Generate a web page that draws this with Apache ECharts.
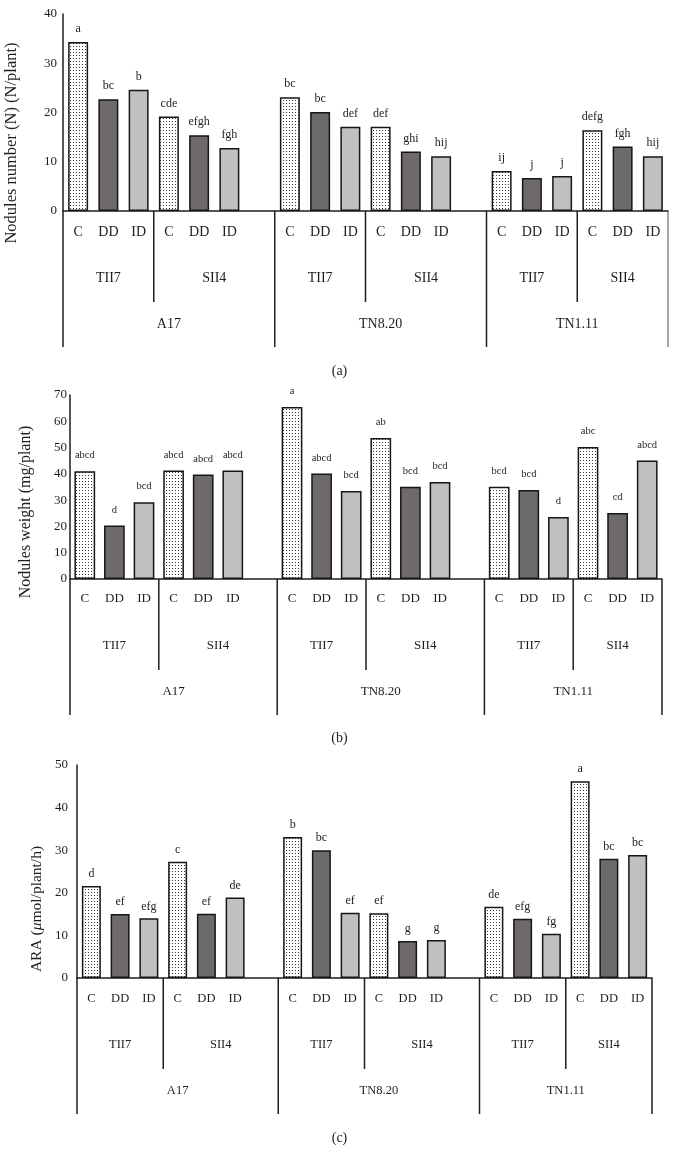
<!DOCTYPE html>
<html>
<head>
<meta charset="utf-8">
<script src="https://cdn.jsdelivr.net/npm/echarts@6.0.0/dist/echarts.min.js"></script>
<style>
html,body{margin:0;padding:0;background:#fff}
#chart{width:679px;height:1170px}
</style>
</head>
<body>
<div id="chart"></div>
<script>
// ---------- data ----------
const groupNames = ['A17', 'TN8.20', 'TN1.11'];
const strainNames = ['TII7', 'SII4'];
const treatmentNames = ['C', 'DD', 'ID'];
const panelCaptions = ['(a)', '(b)', '(c)'];
const axisMaxima = [40, 70, 50];
const axisStep = 10;

// order: A17-TII7, A17-SII4, TN8.20-TII7, TN8.20-SII4, TN1.11-TII7, TN1.11-SII4
const numberC  = [34.3, 19.2, 23.1, 17.1, 8.1, 16.4];
const numberDD = [22.7, 15.4, 20.1, 12.1, 6.7, 13.1];
const numberID = [24.6, 12.8, 17.1, 11.1, 7.1, 11.1];
const numberLetC  = ['a', 'cde', 'bc', 'def', 'ij', 'defg'];
const numberLetDD = ['bc', 'efgh', 'bc', 'ghi', 'j', 'fgh'];
const numberLetID = ['b', 'fgh', 'def', 'hij', 'j', 'hij'];

const weightC  = [41.0, 41.3, 65.4, 53.6, 35.1, 50.2];
const weightDD = [20.4, 39.8, 40.1, 35.1, 33.9, 25.1];
const weightID = [29.2, 41.3, 33.5, 36.9, 23.6, 45.1];
const weightLetC  = ['abcd', 'abcd', 'a', 'ab', 'bcd', 'abc'];
const weightLetDD = ['d', 'abcd', 'abcd', 'bcd', 'bcd', 'cd'];
const weightLetID = ['bcd', 'abcd', 'bcd', 'bcd', 'd', 'abcd'];

const araC  = [21.6, 27.3, 33.1, 15.2, 16.7, 46.2];
const araDD = [15.0, 15.1, 30.0, 8.7, 13.9, 28.0];
const araID = [14.0, 18.9, 15.3, 8.9, 10.4, 28.9];
const araLetC  = ['d', 'c', 'b', 'ef', 'de', 'a'];
const araLetDD = ['ef', 'ef', 'bc', 'g', 'efg', 'bc'];
const araLetID = ['efg', 'de', 'ef', 'g', 'fg', 'bc'];

// ---------- build ----------
const FONT = '"Liberation Serif", "DejaVu Serif", serif';
const INK = '#1e1e1e';

// slots: treatments of each strain, one blank slot between genotypes
const slots = [];
groupNames.forEach((g, gi) => {
  strainNames.forEach((s, si) => {
    treatmentNames.forEach((t, ti) => slots.push({ gi, si, ti, label: t }));
  });
  if (gi < groupNames.length - 1) slots.push(null);
});
const categoryLabels = slots.map(s => (s ? s.label : ''));

const dotCanvas = document.createElement('canvas');
dotCanvas.width = 3; dotCanvas.height = 3;
(function () {
  const c = dotCanvas.getContext('2d');
  c.fillStyle = '#ffffff'; c.fillRect(0, 0, 3, 3);
  c.fillStyle = '#3a3a3a'; c.fillRect(1, 1, 1, 1);
})();
const fills = [{ image: dotCanvas, repeat: 'repeat' }, '#6e6a6a', '#c0c0c0'];

const panels = [
  { values: [numberC, numberDD, numberID], letters: [numberLetC, numberLetDD, numberLetID],
    grid: { left: 63, top: 14, width: 605, height: 197 }, barWidth: '66%',
    catFont: 14, catMargin: 14, tickMargin: 6, letterFont: 12, letterDist: 7, hierFont: 14,
    yName: 'Nodules number (N) (N/plant)', yNameX: 12, yNameY: 143, yNameFont: 16.5, capY: 371 },
  { values: [weightC, weightDD, weightID], letters: [weightLetC, weightLetDD, weightLetID],
    grid: { left: 70, top: 395, width: 592, height: 184 }, barWidth: '70%',
    catFont: 13, catMargin: 13, tickMargin: 3, letterFont: 10.5, letterDist: 10, hierFont: 13,
    yName: 'Nodules weight (mg/plant)', yNameX: 26, yNameY: 512, yNameFont: 16, capY: 738 },
  { values: [araC, araDD, araID], letters: [araLetC, araLetDD, araLetID],
    grid: { left: 77, top: 765, width: 575, height: 213 }, barWidth: '66%',
    catFont: 12.5, catMargin: 14, tickMargin: 9, letterFont: 12, letterDist: 6, hierFont: 12.5,
    yName: null, yNameX: 37, yNameY: 909, yNameFont: 15.5, capY: 1138 }
];

const grids = [], xAxes = [], yAxes = [], series = [];
panels.forEach((P, p) => {
  grids.push(Object.assign({ containLabel: false }, P.grid));
  xAxes.push({
    type: 'category', gridIndex: p, data: categoryLabels,
    axisLine: { show: true, lineStyle: { color: INK, width: 1.5 } },
    axisTick: { show: false },
    axisLabel: { interval: 0, margin: P.catMargin, fontFamily: FONT, fontSize: P.catFont, color: INK }
  });
  yAxes.push({
    type: 'value', gridIndex: p, min: 0, max: axisMaxima[p], interval: axisStep,
    splitLine: { show: false },
    axisLine: { show: true, lineStyle: { color: INK, width: 1.5 } },
    axisTick: { show: false },
    axisLabel: { margin: P.tickMargin, fontFamily: FONT, fontSize: 13, color: INK }
  });
  treatmentNames.forEach((t, ti) => {
    series.push({
      type: 'bar', name: t, xAxisIndex: p, yAxisIndex: p,
      barWidth: P.barWidth, barGap: '-100%',
      data: slots.map(s => (s && s.ti === ti) ? P.values[ti][s.gi * 2 + s.si] : '-'),
      itemStyle: { color: fills[ti], borderColor: '#161616', borderWidth: 1.5 },
      label: {
        show: true, position: 'top', distance: P.letterDist,
        fontFamily: FONT, fontSize: P.letterFont, color: INK,
        formatter: prm => { const s = slots[prm.dataIndex]; return s ? P.letters[ti][s.gi * 2 + s.si] : ''; }
      }
    });
  });
});

const chart = echarts.init(document.getElementById('chart'), null, { renderer: 'canvas' });
chart.setOption({
  animation: false,
  backgroundColor: '#ffffff',
  grid: grids, xAxis: xAxes, yAxis: yAxes, series: series
});

// ---------- hierarchical category axis drawn from the axis scales ----------
const groupStart = groupNames.map((g, gi) => slots.findIndex(s => s && s.gi === gi));
const groupEnd = groupNames.map((g, gi) => gi < groupNames.length - 1 ? groupStart[gi + 1] : slots.length);
const strainStart = groupNames.map((g, gi) => strainNames.map((s, si) => slots.findIndex(x => x && x.gi === gi && x.si === si)));

const gfx = [];
panels.forEach((P, p) => {
  const c0 = chart.convertToPixel({ xAxisIndex: p }, 0);
  const c1 = chart.convertToPixel({ xAxisIndex: p }, 1);
  const bw = c1 - c0;
  const bx = k => c0 + (k - 0.5) * bw;
  const y0 = chart.convertToPixel({ yAxisIndex: p }, 0);
  const longLen = 136, shortLen = 91;
  const vline = (x, len, color) => gfx.push({
    type: 'line', silent: true,
    shape: { x1: x, y1: y0, x2: x, y2: y0 + len },
    style: { stroke: color || INK, lineWidth: 1.5 }
  });
  const txt = (x, y, text, size) => gfx.push({
    type: 'text', silent: true, x: x, y: y,
    style: { text: text, fontFamily: FONT, fontSize: size, fill: INK, align: 'center', verticalAlign: 'middle' }
  });
  vline(bx(groupStart[0]), longLen);
  groupNames.forEach((g, gi) => {
    const last = gi === groupNames.length - 1;
    vline(bx(groupEnd[gi]), longLen, (last && p === 0) ? '#8a8a8a' : INK);
    vline(bx(strainStart[gi][1]), shortLen);
    strainNames.forEach((s, si) => {
      const a = bx(strainStart[gi][si]);
      const b = bx(si === 0 ? strainStart[gi][1] : groupEnd[gi]);
      txt((a + b) / 2, y0 + 67, s, P.hierFont);
    });
    txt((bx(groupStart[gi]) + bx(groupEnd[gi])) / 2, y0 + 113, g, P.hierFont);
  });
  txt(339.5, P.capY, panelCaptions[p], 14);
  // y-axis title
  if (P.yName) {
    gfx.push({
      type: 'text', silent: true, x: P.yNameX, y: P.yNameY, rotation: Math.PI / 2,
      style: { text: P.yName, fontFamily: FONT, fontSize: P.yNameFont, fill: INK, align: 'center', verticalAlign: 'middle' }
    });
  } else {
    gfx.push({
      type: 'text', silent: true, x: P.yNameX, y: P.yNameY, rotation: Math.PI / 2,
      style: {
        text: '{n|ARA (}{i|μ}{n|mol/plant/h)}', align: 'center', verticalAlign: 'middle',
        rich: {
          n: { fontFamily: FONT, fontSize: P.yNameFont, fill: INK, color: INK },
          i: { fontFamily: FONT, fontSize: P.yNameFont, fontStyle: 'italic', fill: INK, color: INK }
        }
      }
    });
  }
});
chart.setOption({ graphic: gfx });
</script>
</body>
</html>
